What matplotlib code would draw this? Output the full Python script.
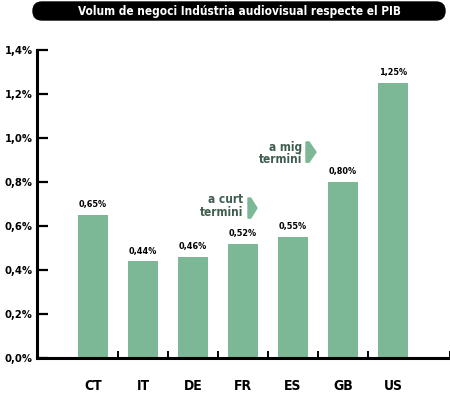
import matplotlib
matplotlib.use("Agg")
import matplotlib.pyplot as plt
from matplotlib import font_manager
from matplotlib.patches import FancyBboxPatch, Polygon

# ---- data ----
categories = ["CT", "IT", "DE", "FR", "ES", "GB", "US"]
values = [0.65, 0.44, 0.46, 0.52, 0.55, 0.80, 1.25]
value_labels = ["0,65%", "0,44%", "0,46%", "0,52%", "0,55%", "0,80%", "1,25%"]
yticks = [0.0, 0.2, 0.4, 0.6, 0.8, 1.0, 1.2, 1.4]
ytick_labels = ["0,0%", "0,2%", "0,4%", "0,6%", "0,8%", "1,0%", "1,2%", "1,4%"]
title = "Volum de negoci Indústria audiovisual respecte el PIB"
notes = ["a curt\ntermini", "a mig\ntermini"]

# ---- font ----
names = {f.name for f in font_manager.fontManager.ttflist}
if "Liberation Sans Narrow" in names:
    FAM = "Liberation Sans Narrow"
    STRETCH = "normal"
else:
    FAM = "DejaVu Sans"
    STRETCH = "condensed"
plt.rcParams["font.family"] = [FAM, "DejaVu Sans"]

BAR = "#7db896"
TXT_GREEN = "#3f5e4f"

W, H = 450, 395
fig = plt.figure(figsize=(W / 100, H / 100), dpi=100)

x0, x1 = 37, 450
yb, yt = 358, 50
ax = fig.add_axes([x0 / W, (H - yb) / H, (x1 - x0) / W, (yb - yt) / H])

xs = list(range(len(categories)))
ax.bar(xs, values, width=0.6, color=BAR, zorder=2)
xmin, xmax = -1.12, 7.14
ax.set_xlim(xmin, xmax)
ax.set_ylim(0, 1.4)

for s in ["top", "right"]:
    ax.spines[s].set_visible(False)
for s in ["left", "bottom"]:
    ax.spines[s].set_linewidth(2.2)
    ax.spines[s].set_capstyle("projecting")

ax.set_yticks(yticks)
ax.set_yticklabels(ytick_labels, fontsize=8, fontweight="bold", fontstretch=STRETCH)
ax.tick_params(axis="y", direction="in", length=8, width=1.6, pad=3)

ax.set_xticks([0.5, 1.5, 2.5, 3.5, 4.5, 5.5, xmax])
ax.set_xticklabels([])
ax.tick_params(axis="x", which="major", direction="in", length=5, width=1.4)
ax.set_xticks(xs, minor=True)
ax.set_xticklabels(categories, minor=True, fontsize=10, fontweight="bold",
                   fontstretch=STRETCH)
ax.tick_params(axis="x", which="minor", length=0, pad=15)

for x, v, lab in zip(xs, values, value_labels):
    ax.annotate(lab, (x, v), xytext=(0, 4), textcoords="offset points",
                ha="center", va="bottom", fontsize=6.5, fontweight="bold",
                fontstretch=STRETCH)

# annotations "a curt termini" / "a mig termini"
def note(text, xr, ymid, ax_x0, ax_x1, ytop, ybot):
    ax.text(xr, ymid, text, ha="right", va="center", fontsize=8.5,
            fontweight="bold", color=TXT_GREEN, linespacing=0.95,
            fontstretch=STRETCH)
    ym = (ytop + ybot) / 2
    stem = ax_x0 + (ax_x1 - ax_x0) * 0.3
    poly = Polygon([(ax_x0, ytop), (stem, ytop), (ax_x1, ym), (stem, ybot), (ax_x0, ybot)],
                   closed=True, color=BAR, zorder=3)
    ax.add_patch(poly)

note(notes[0], 3.0, 0.69, 3.10, 3.28, 0.727, 0.636)
note(notes[1], 4.18, 0.93, 4.26, 4.46, 0.982, 0.89)

# title pill
tb = FancyBboxPatch((33 / W, 1 - 20 / H), 412 / W, 18 / H,
                    boxstyle="round,pad=0,rounding_size=0.02",
                    transform=fig.transFigure, facecolor="black", edgecolor="black",
                    mutation_aspect=W / H)
fig.patches.append(tb)
fig.text(239 / W, 1 - 11.5 / H, title, ha="center", va="center", color="white",
         fontsize=8.5, fontweight="bold", fontstretch=STRETCH)

fig.savefig("out.png", dpi=100)
